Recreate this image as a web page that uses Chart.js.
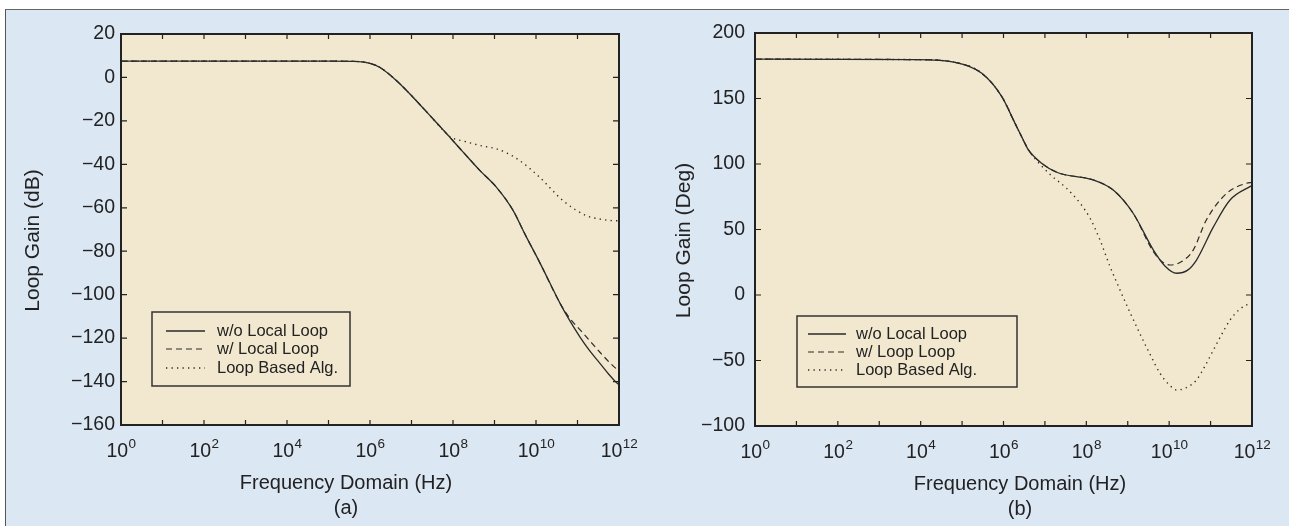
<!DOCTYPE html>
<html>
<head>
<meta charset="utf-8">
<script src="https://cdn.jsdelivr.net/npm/chart.js@4.4.1/dist/chart.umd.min.js"></script>
<style>
  html, body { margin: 0; padding: 0; background: #ffffff; }
  #fig {
    position: absolute; left: 5px; top: 9px; width: 1290px; height: 520px;
    background: #dce7f4; border-left: 1.5px solid #555; border-top: 1.5px solid #666;
  }
  .panel { position: absolute; top: 0; height: 526px; }
  #panelA { left: 0; width: 644px; }
  #panelB { left: 644px; width: 645px; }
</style>
</head>
<body>
<div id="fig"></div>
<div class="panel" id="panelA"><canvas id="gainChart"></canvas></div>
<div class="panel" id="panelB"><canvas id="phaseChart"></canvas></div>
<script>
// --- x axis: decades of frequency (Hz) ---
const tickExps = [0, 1, 2, 3, 4, 5, 6, 7, 8, 9, 10, 11, 12];
const labelExps = [0, 2, 4, 6, 8, 10, 12];

// --- (a) loop gain magnitude, dB ---
const gainNoLoopF = [1, 1e5, 4e5, 1e6, 1.74e6, 4.37e6, 1.1e7, 2.8e7, 7.1e7, 1.78e8, 4.47e8, 1.12e9, 2.82e9, 5.37e9, 1.26e10, 3.8e10, 6.3e10, 1.15e11, 2e11, 3.47e11, 5.6e11, 8.7e11, 1e12];
const gainNoLoopV = [7.5, 7.5, 7.4, 6.5, 4.6, -1.5, -9.2, -17.6, -26, -34.5, -42.9, -50.6, -61.3, -72, -85.6, -104, -111.5, -119.5, -126, -131.6, -136.5, -140.5, -141.5];

const gainLocalF = [1, 1e5, 4e5, 1e6, 1.74e6, 4.37e6, 1.1e7, 2.8e7, 7.1e7, 1.78e8, 4.47e8, 1.12e9, 2.82e9, 5.37e9, 1.26e10, 3.8e10, 6.3e10, 1.38e11, 3.47e11, 7.2e11, 1e12];
const gainLocalV = [7.5, 7.5, 7.4, 6.5, 4.6, -1.5, -9.2, -17.6, -26, -34.5, -42.9, -50.6, -61.3, -72, -85.6, -104, -110.5, -117.8, -126.5, -132.8, -135];

const gainAlgF = [1, 1e5, 4e5, 1e6, 1.74e6, 4.37e6, 1.1e7, 2.8e7, 7.1e7, 1e8, 1.78e8, 4.47e8, 1.12e9, 2e9, 4.07e9, 1.23e10, 4.47e10, 1.62e11, 3.5e11, 8.7e11, 1e12];
const gainAlgV = [7.5, 7.5, 7.4, 6.5, 4.6, -1.5, -9.2, -17.6, -26, -28, -29.3, -31.3, -32.9, -34.8, -38.3, -46, -56.7, -63.6, -65.2, -66, -66];

// --- (b) loop gain phase, degrees ---
const phaseNoLoopF = [1, 7.2e3, 6.8e4, 3e5, 9.1e5, 1.9e6, 3e6, 4e6, 8e6, 2e7, 1.48e8, 4.47e8, 1.35e9, 4.17e9, 8e9, 1.5e10, 2.8e10, 4.57e10, 1.17e11, 2.95e11, 8.9e11, 1e12];
const phaseNoLoopV = [180, 179.7, 177.6, 169.2, 151.4, 131, 118.3, 110.7, 101, 93.5, 87.8, 80.1, 62.4, 34.3, 22, 16.6, 19, 26.7, 52, 72.5, 82.7, 83.5];

const phaseLocalF = [1, 7.2e3, 6.8e4, 3e5, 9.1e5, 1.9e6, 3e6, 4e6, 8e6, 2e7, 1.48e8, 4.47e8, 1.35e9, 4.17e9, 7e9, 1.05e10, 2e10, 3.8e10, 7.9e10, 2.45e11, 7.4e11, 1e12];
const phaseLocalV = [180, 179.7, 177.6, 169.2, 151.4, 131, 118.3, 110.7, 101, 93.5, 87.8, 80.1, 62.4, 33, 25, 22.9, 25.5, 34.3, 57.2, 77.6, 85.3, 86];

const phaseAlgF = [1, 7.2e3, 6.8e4, 3e5, 9.1e5, 1.9e6, 3e6, 4e6, 8e6, 1.45e7, 3.2e7, 7.1e7, 1.26e8, 2.14e8, 3.7e8, 6.5e8, 1.12e9, 1.95e9, 3.55e9, 6e9, 1e10, 1.5e10, 2.5e10, 4.57e10, 7.1e10, 1.17e11, 1.86e11, 2.95e11, 5e11, 8.9e11, 1e12];
const phaseAlgV = [180, 179.7, 177.6, 169.2, 151.4, 131, 118.3, 110.7, 99, 91, 82, 70, 58, 42, 22, 3.8, -13, -29.3, -46, -59.8, -68.5, -72.5, -71, -64.9, -55, -42, -30, -19.1, -11, -6.3, -5.5];

const FONT = "'Liberation Sans', Arial, sans-serif";
const INK = '#222222';
Chart.defaults.font.family = FONT;
Chart.defaults.color = INK;

function points(fs, vs) {
  return fs.map((f, i) => ({ x: f, y: vs[i] }));
}

function series(label, fs, vs, dash, width) {
  return {
    label,
    data: points(fs, vs),
    borderColor: '#2a2a2a',
    borderWidth: width,
    borderDash: dash,
    pointRadius: 0,
    cubicInterpolationMode: 'monotone',
    fill: false
  };
}

/**
 * Plot background, boxed frame with inward ticks, superscript decade
 * labels, axis titles and the boxed legend.
 */
const framePlugin = {
  id: 'frame',
  beforeDatasetsDraw(chart, args, opts) {
    const { ctx, chartArea: a } = chart;
    ctx.save();
    ctx.fillStyle = '#f2e8cf';
    ctx.fillRect(a.left, a.top, a.right - a.left, a.bottom - a.top);
    ctx.restore();
  },
  afterDraw(chart, args, opts) {
    const { ctx, chartArea: a } = chart;
    const xs = chart.scales.x;
    const ys = chart.scales.y;
    ctx.save();

    // ticks, inward on all four sides
    ctx.strokeStyle = INK;
    ctx.lineWidth = 1.2;
    ctx.beginPath();
    tickExps.forEach(e => {
      const px = xs.getPixelForValue(Math.pow(10, e));
      ctx.moveTo(px, a.bottom); ctx.lineTo(px, a.bottom - 5);
      ctx.moveTo(px, a.top); ctx.lineTo(px, a.top + 5);
    });
    ys.ticks.forEach(t => {
      const py = ys.getPixelForValue(t.value);
      ctx.moveTo(a.left, py); ctx.lineTo(a.left + 6, py);
      ctx.moveTo(a.right, py); ctx.lineTo(a.right - 6, py);
    });
    ctx.stroke();

    // frame
    ctx.lineWidth = 2;
    ctx.strokeRect(a.left, a.top, a.right - a.left, a.bottom - a.top);

    // decade labels 10^n
    ctx.fillStyle = INK;
    ctx.textBaseline = 'alphabetic';
    labelExps.forEach(e => {
      const px = xs.getPixelForValue(Math.pow(10, e));
      ctx.font = '19.5px ' + FONT;
      const wb = ctx.measureText('10').width;
      ctx.font = '13.5px ' + FONT;
      const we = ctx.measureText(String(e)).width;
      const x0 = px - (wb + we) / 2;
      ctx.font = '19.5px ' + FONT;
      ctx.textAlign = 'left';
      ctx.fillText('10', x0, a.bottom + 32);
      ctx.font = '13.5px ' + FONT;
      ctx.fillText(String(e), x0 + wb + 0.5, a.bottom + 23);
    });

    // x title + panel tag
    ctx.font = '20px ' + FONT;
    ctx.textAlign = 'center';
    ctx.fillText(opts.xTitle, opts.xTitleX, a.bottom + 64);
    ctx.fillText(opts.tag, opts.xTitleX, a.bottom + 89);

    // y title
    ctx.save();
    ctx.font = '21px ' + FONT;
    ctx.translate(opts.yTitleX, (a.top + a.bottom) / 2 + 11);
    ctx.rotate(-Math.PI / 2);
    ctx.textBaseline = 'middle';
    ctx.fillText(opts.yTitle, 0, 0);
    ctx.restore();

    // legend box
    const L = opts.legend;
    ctx.lineWidth = 1.5;
    ctx.strokeStyle = '#333';
    ctx.strokeRect(L.left, L.top, L.right - L.left, L.bottom - L.top);
    ctx.font = '16.5px ' + FONT;
    ctx.textAlign = 'left';
    ctx.textBaseline = 'middle';
    chart.data.datasets.forEach((ds, i) => {
      const cy = L.rows[i];
      ctx.beginPath();
      ctx.setLineDash(ds.borderDash);
      ctx.lineWidth = ds.borderWidth;
      ctx.strokeStyle = ds.borderColor;
      ctx.moveTo(L.sampleX0, cy);
      ctx.lineTo(L.sampleX1, cy);
      ctx.stroke();
      ctx.setLineDash([]);
      ctx.fillStyle = INK;
      ctx.fillText(ds.label, L.textX, cy);
    });
    ctx.restore();
  }
};

function makeChart(id, cfg) {
  return new Chart(document.getElementById(id), {
    type: 'line',
    data: { datasets: cfg.datasets },
    plugins: [framePlugin],
    options: {
      responsive: true,
      maintainAspectRatio: false,
      animation: false,
      layout: { padding: cfg.padding },
      plugins: {
        legend: { display: false },
        tooltip: { enabled: false },
        frame: cfg.frame
      },
      scales: {
        x: {
          type: 'logarithmic',
          min: 1,
          max: 1e12,
          grid: { display: false, drawTicks: false },
          border: { display: false },
          ticks: { display: false },
          afterFit: s => { s.height = cfg.xHeight; }
        },
        y: {
          min: cfg.yMin,
          max: cfg.yMax,
          grid: { display: false, drawTicks: false },
          border: { display: false },
          ticks: {
            stepSize: cfg.yStep,
            padding: cfg.yPad,
            color: INK,
            font: { size: 19.5 },
            callback: v => String(v).replace('-', '\u2212')
          },
          afterFit: s => { s.width = cfg.yWidth; }
        }
      }
    }
  });
}

makeChart('gainChart', {
  datasets: [
    series('w/o Local Loop', gainNoLoopF, gainNoLoopV, [], 1.3),
    series('w/ Local Loop', gainLocalF, gainLocalV, [6, 4], 1.2),
    series('Loop Based Alg.', gainAlgF, gainAlgV, [1.3, 4.2], 1.4)
  ],
  padding: { top: 34, right: 25, left: 0, bottom: 0 },
  xHeight: 101,
  yWidth: 121,
  yPad: 6,
  yMin: -160, yMax: 20, yStep: 20,
  frame: {
    xTitle: 'Frequency Domain (Hz)', tag: '(a)', xTitleX: 346,
    yTitle: 'Loop Gain (dB)', yTitleX: 33,
    legend: { left: 152, top: 312, right: 350, bottom: 386, rows: [331, 349, 368], sampleX0: 166, sampleX1: 205, textX: 217 }
  }
});

makeChart('phaseChart', {
  datasets: [
    series('w/o Local Loop', phaseNoLoopF, phaseNoLoopV, [], 1.3),
    series('w/ Loop Loop', phaseLocalF, phaseLocalV, [6, 4], 1.2),
    series('Loop Based Alg.', phaseAlgF, phaseAlgV, [1.3, 4.2], 1.4)
  ],
  padding: { top: 33, right: 37, left: 0, bottom: 0 },
  xHeight: 100,
  yWidth: 111,
  yPad: 10,
  yMin: -100, yMax: 200, yStep: 50,
  frame: {
    xTitle: 'Frequency Domain (Hz)', tag: '(b)', xTitleX: 1020 - 644,
    yTitle: 'Loop Gain (Deg)', yTitleX: 40,
    legend: { left: 797 - 644, top: 316, right: 1017 - 644, bottom: 387, rows: [334, 352, 370], sampleX0: 808 - 644, sampleX1: 846 - 644, textX: 856 - 644 }
  }
});
</script>
</body>
</html>
